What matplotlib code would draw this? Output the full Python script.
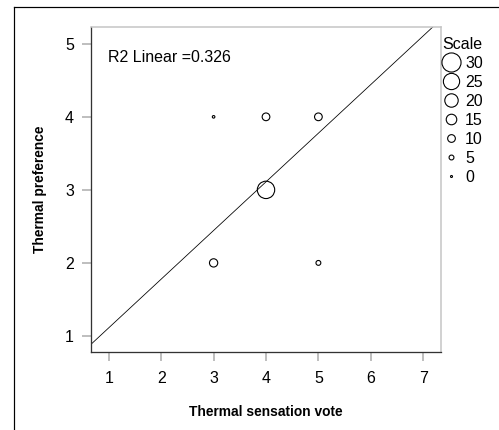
import numpy as np
import matplotlib.pyplot as plt
from matplotlib.lines import Line2D

# aggregated votes: sensation, preference, count
sens = [3, 4, 5, 4, 3, 5]
pref = [4, 4, 4, 3, 2, 2]
count = [1, 10, 10, 27, 11, 5]

scale_vals = [30, 25, 20, 15, 10, 5, 0]
fit_slope = 0.666
fit_intercept = 0.446
r2 = 0.326

plt.rcParams['font.family'] = ['Liberation Sans', 'DejaVu Sans']


def diam(c):
    return 2 + 0.57 * np.asarray(c)


fig = plt.figure(figsize=(499 / 72, 430 / 72), dpi=72)
ax = fig.add_axes([91 / 499, 1 - 352 / 430, 350 / 499, 325 / 430])

ax.scatter(sens, pref, s=diam(count) ** 2, facecolors='none', edgecolors='black',
           linewidths=1.1, zorder=3)
ax.axline((0, fit_intercept), slope=fit_slope, color='black', lw=0.8)

ax.set_xlim(0.66, 7.34)
ax.set_ylim(0.78, 5.23)
ax.set_xticks(range(1, 8))
ax.set_yticks(range(1, 6))
ax.tick_params(direction='out', length=9, width=1.8, color='#b8b8b8',
               labelsize=16, labelcolor='black')
ax.tick_params(axis='x', pad=10)
ax.tick_params(axis='y', pad=8)

for s in ['left', 'bottom']:
    ax.spines[s].set_color('#333333')
    ax.spines[s].set_linewidth(1.3)
for s in ['top', 'right']:
    ax.spines[s].set_color('#c4c4c4')
    ax.spines[s].set_linewidth(1.5)

ax.set_xlabel('Thermal sensation vote', fontsize=13.8, fontweight='bold', labelpad=19)
ax.set_ylabel('Thermal preference', fontsize=13.8, fontweight='bold', labelpad=18)

ax.text(0.049, 0.905, 'R2 Linear =%.3f' % r2, transform=ax.transAxes,
        fontsize=16, va='center', ha='left')

handles = [Line2D([], [], ls='none', marker='o', markersize=d, markerfacecolor='none',
                  markeredgecolor='black', markeredgewidth=1.1)
           for d in diam(scale_vals)]
leg = ax.legend(handles, [str(v) for v in scale_vals], title='Scale',
                loc='upper left', bbox_to_anchor=(1.0, 0.97), frameon=False,
                fontsize=16, title_fontsize=16, handlelength=1.2,
                handletextpad=0.3, labelspacing=0.25, borderaxespad=0,
                borderpad=0.0)

# outer frame (left and top edges visible)
fig.add_artist(Line2D([14 / 499, 14 / 499], [0, 1 - 7 / 430], color='black', lw=1.2))
fig.add_artist(Line2D([14 / 499, 1], [1 - 7 / 430, 1 - 7 / 430], color='black', lw=1.2))

fig.savefig('out.png', dpi=72)
